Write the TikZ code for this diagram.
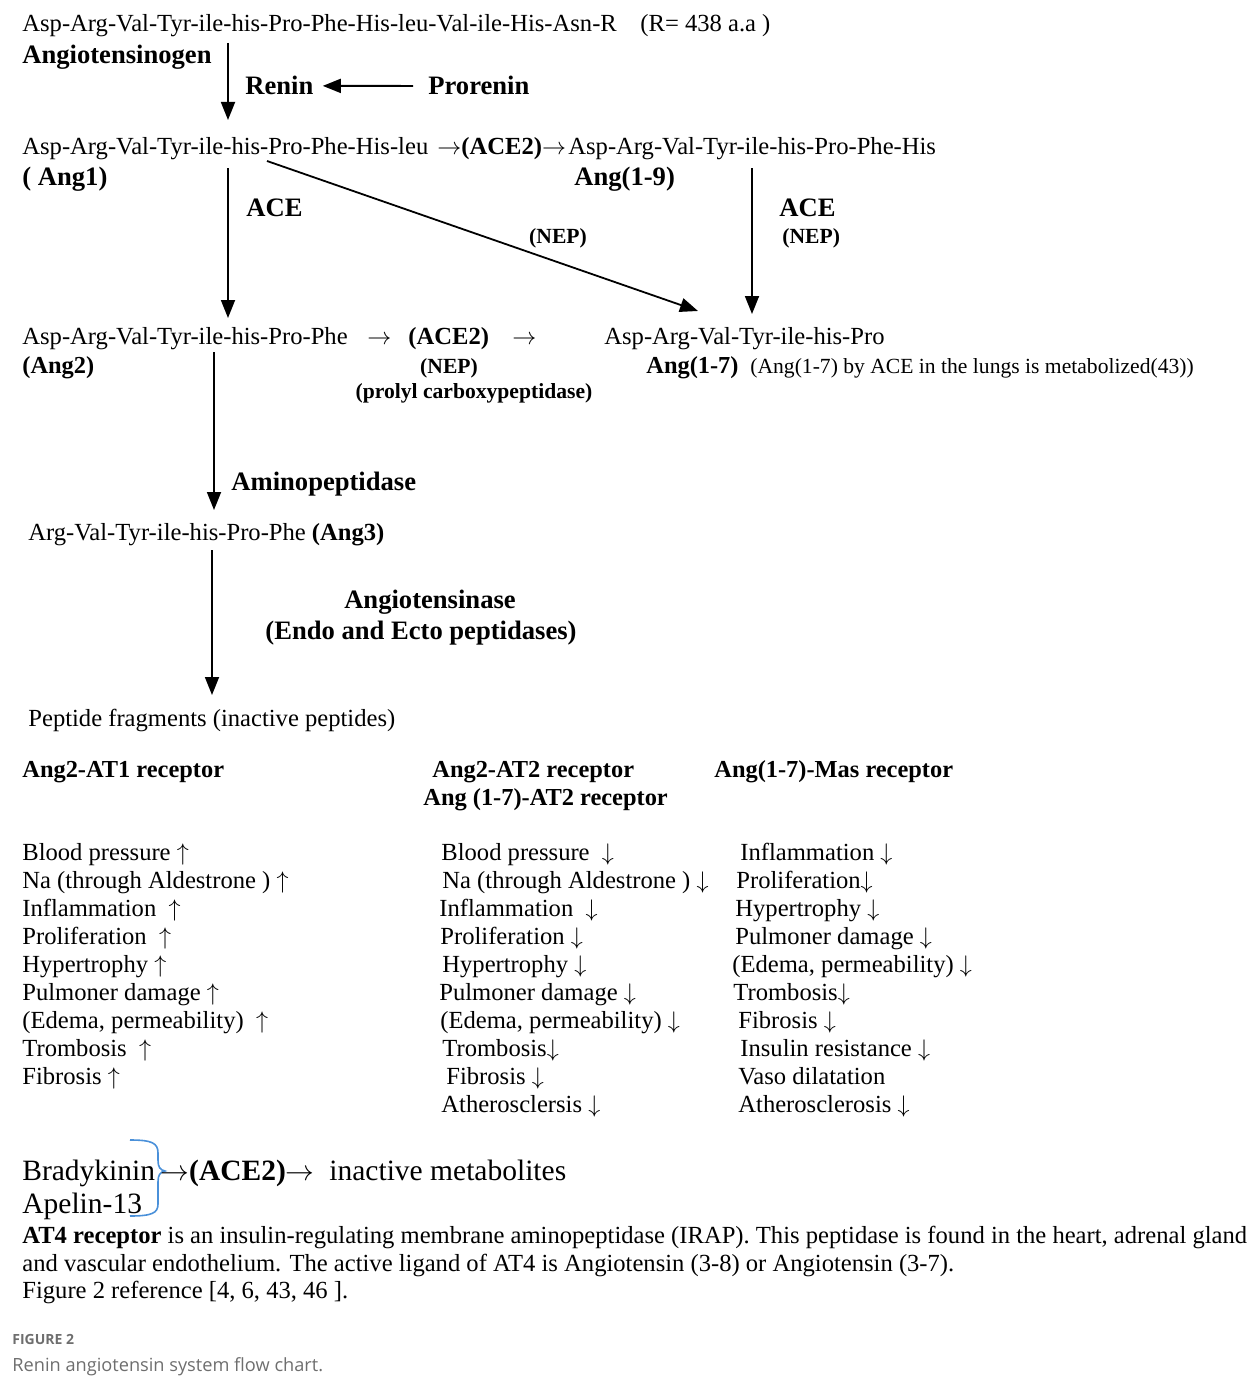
\documentclass[tikz,border=0pt]{standalone}
\usepackage{fontspec}
\setmainfont{Liberation Serif}
\newfontfamily\capfont{Open Sans}
\usetikzlibrary{arrows.meta}
\newcommand{\ra}{$\rightarrow$}
\newcommand{\ua}{$\uparrow$}
\newcommand{\da}{$\downarrow$}

\begin{document}
\begin{tikzpicture}[x=0.5pt, y=-0.5pt,
  txt/.style={anchor=base west, inner sep=0pt, font=\fontsize{12.3}{14}\selectfont},
  lab/.style={anchor=base west, inner sep=0pt, font=\fontsize{13.3}{16}\selectfont\bfseries},
  sm/.style={anchor=base, inner sep=0pt, font=\fontsize{10.8}{13}\selectfont\bfseries},
  hd/.style={anchor=base west, inner sep=0pt, font=\fontsize{12.2}{14}\selectfont\bfseries},
  big/.style={anchor=base west, inner sep=0pt, font=\fontsize{14.75}{17}\selectfont},
  arr/.style={-{Triangle[width=7pt,length=9pt]}, line width=0.9pt}]
\useasboundingbox (0,0) rectangle (1258,1386);
% angiotensinogen and renin
\node[txt] (agt) at (22,32) {Asp-Arg-Val-Tyr-ile-his-Pro-Phe-His-leu-Val-ile-His-Asn-R};
\node[txt] (rr) at (640,32) {(R= 438 a.a )};
\node[lab] (agtn) at (22,64) {Angiotensinogen};
\node[lab] (renin) at (245,95) {Renin};
\node[lab] (pro) at (428,95) {Prorenin};
\draw[arr] ([xshift=-7.5pt]pro.west) -- ([xshift=4.5pt]renin.east);
\coordinate (a0) at (228,43); \coordinate (a1) at (228,120);
\draw[arr] (a0) -- (a1);
% Ang1 and Ang(1-9)
\node[txt] (ang1) at (22,155) {Asp-Arg-Val-Tyr-ile-his-Pro-Phe-His-leu};
\node[txt] (ace2a) at (437,155) {\ra\textbf{(ACE2)}\ra};
\node[txt] (ang9) at (568,155) {Asp-Arg-Val-Tyr-ile-his-Pro-Phe-His};
\node[lab] (ang1n) at (22,185) {( Ang1)};
\node[lab] (ang9n) at (574,185) {Ang(1-9)};
\node[lab] (ace1) at (246,216) {ACE};
\node[lab] (ace2) at (779,216) {ACE};
\node[sm] (nep1) at (558,243) {(NEP)};
\node[sm, anchor=base west] (nep2) at (782,243) {(NEP)};
\coordinate (b0) at (228,168); \coordinate (b1) at (228,318);
\coordinate (c0) at (267,161); \coordinate (c1) at (698,311);
\coordinate (d0) at (752,168); \coordinate (d1) at (752,314);
\draw[arr] (b0) -- (b1);
\draw[arr] (c0) -- (c1);
\draw[arr] (d0) -- (d1);
% Ang2 and Ang(1-7)
\node[txt] (ang2) at (22,344) {Asp-Arg-Val-Tyr-ile-his-Pro-Phe};
\node[txt] (r1) at (367,344) {\ra};
\node[txt] (ace2b) at (408,344) {\textbf{(ACE2)}};
\node[txt] (r2) at (512,344) {\ra};
\node[txt] (ang7) at (604,344) {Asp-Arg-Val-Tyr-ile-his-Pro};
\node[hd] (ang2n) at (22,373) {(Ang2)};
\node[sm] (nep3) at (449,373) {(NEP)};
\node[sm] (pcp) at (474,398) {(prolyl carboxypeptidase)};
\node[hd] (ang7n) at (646,373) {Ang(1-7)};
\node[txt, font=\fontsize{10.8}{13}\selectfont] (lung) at (750,373) {(Ang(1-7) by ACE in the lungs is metabolized(43))};
% Ang3 and fragments
\coordinate (e0) at (214,352); \coordinate (e1) at (214,510);
\draw[arr] (e0) -- (e1);
\node[lab] (amp) at (231,490) {Aminopeptidase};
\node[txt] (ang3) at (28,540) {Arg-Val-Tyr-ile-his-Pro-Phe \textbf{(Ang3)}};
\coordinate (f0) at (212,550); \coordinate (f1) at (212,695);
\draw[arr] (f0) -- (f1);
\node[lab, anchor=base] (atase) at (430,608) {Angiotensinase};
\node[lab, anchor=base] (endo) at (421,639) {(Endo and Ecto peptidases)};
\node[txt] (frag) at (28,726) {Peptide fragments (inactive peptides)};
% receptors
\node[hd] (h1) at (22,777) {Ang2-AT1 receptor};
\node[hd] (h2) at (432,777) {Ang2-AT2 receptor};
\node[hd] (h3) at (423,805) {Ang (1-7)-AT2 receptor};
\node[hd] (h4) at (714,777) {Ang(1-7)-Mas receptor};
\foreach \x/\t [count=\i] in {22/Blood pressure \ua, 22/Na (through Aldestrone ) \ua,
    22/Inflammation \ \ua, 22/Proliferation \ \ua, 22/Hypertrophy \ua, 22/Pulmoner damage \ua,
    22/{(Edema, permeability) \ \ua}, 22/Trombosis \ \ua, 22/Fibrosis \ua}
  \node[txt] (l\i) at (\x,{860+28*(\i-1)}) {\t};
\foreach \x/\t [count=\i] in {441/Blood pressure \ \da, 442/Na (through Aldestrone ) \da,
    439/Inflammation \ \da, 440/Proliferation \da, 442/Hypertrophy \da, 439/Pulmoner damage \da,
    440/{(Edema, permeability) \da}, 442/Trombosis\da, 446/Fibrosis \da, 441/Atherosclersis \da}
  \node[txt] (m\i) at (\x,{860+28*(\i-1)}) {\t};
\foreach \x/\t [count=\i] in {740/Inflammation \da, 736/Proliferation\da, 735/Hypertrophy \da,
    735/Pulmoner damage \da, 732/{(Edema, permeability) \da}, 733/Trombosis\da, 738/Fibrosis \da,
    740/Insulin resistance \da, 738/Vaso dilatation, 738/Atherosclerosis \da}
  \node[txt] (r\i) at (\x,{860+28*(\i-1)}) {\t};
% bradykinin, apelin
\node[big] (brady) at (22,1180) {Bradykinin};
\node[big] (apelin) at (22,1213) {Apelin-13};
\draw[color={rgb,255:red,74;green,144;blue,217}, line width=0.8pt]
  (130,1140) .. controls (152,1140) and (158,1143) .. (158,1153) -- (158,1160)
  .. controls (158,1167) and (160,1170) .. (165,1171)
  .. controls (160,1172) and (158,1175) .. (158,1182) -- (158,1204)
  .. controls (158,1213) and (152,1216) .. (130,1216);
\node[big] (ace2d) at (160,1180) {\ra\textbf{(ACE2)}\ra\ \ inactive metabolites};
% AT4 note
\node[txt] (at4a) at (22,1243) {\textbf{AT4 receptor} is an insulin-regulating membrane aminopeptidase (IRAP). This peptidase is found in the heart, adrenal gland};
\node[txt] (at4b) at (22,1271) {and vascular endothelium. The active ligand of AT4 is Angiotensin (3-8) or Angiotensin (3-7).};
\node[txt] (at4c) at (22,1298) {Figure 2 reference [4, 6, 43, 46 ].};
% caption
\node[anchor=base west, inner sep=0pt, font=\capfont\fontsize{7}{8}\selectfont\bfseries, text={rgb,255:red,110;green,110;blue,110}] (fig) at (12,1344) {FIGURE 2};
\node[anchor=base west, inner sep=0pt, font=\capfont\fontsize{9.1}{10}\selectfont, text={rgb,255:red,110;green,110;blue,110}] (cap) at (12,1371) {Renin angiotensin system flow chart.};
\end{tikzpicture}
\end{document}
